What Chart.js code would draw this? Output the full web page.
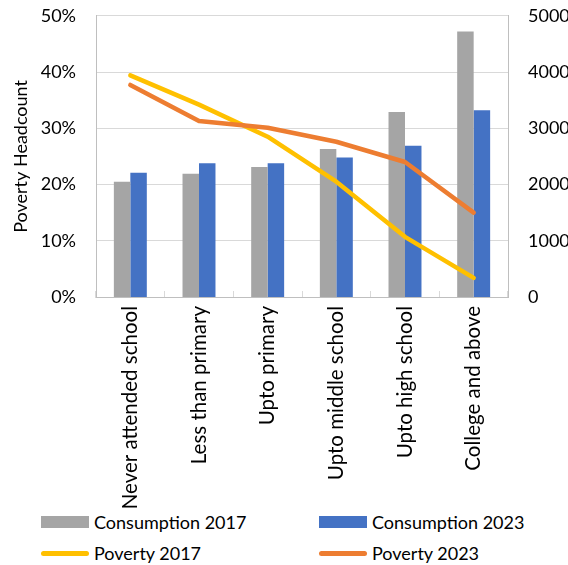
<!DOCTYPE html>
<html>
<head>
<meta charset="utf-8">
<script src="https://cdn.jsdelivr.net/npm/chart.js@4"></script>
<style>
  html, body { margin: 0; padding: 0; background: #fff; overflow: hidden; width: 568px; height: 565px; }
  #wrap { position: absolute; left: 0; top: -15px; width: 600px; height: 525px; }
  #legend { position: absolute; left: 0; top: 510px; width: 568px; height: 55px; font-family: Lato, "Open Sans", sans-serif; font-size: 18px; color: #000; }
  .item { position: absolute; display: flex; align-items: center; height: 24px; }
  .sw { width: 48px; margin-right: 5px; }
  .box { height: 12px; }
  .ln { height: 5px; border-radius: 3px; }
</style>
</head>
<body>
<div id="wrap"><canvas id="c" width="600" height="525"></canvas></div>
<div id="legend"></div>
<script>
const categories = ["Never attended school", "Less than primary", "Upto primary", "Upto middle school", "Upto high school", "College and above"];
const consumption2017 = [2050, 2190, 2310, 2630, 3290, 4720];
const consumption2023 = [2210, 2380, 2380, 2480, 2690, 3320];
const poverty2017 = [39.4, 34.2, 28.5, 20.5, 10.7, 3.4];
const poverty2023 = [37.7, 31.3, 30.1, 27.6, 24.0, 15.0];
const leftTicks = [0, 10, 20, 30, 40, 50];
const rightTicks = [0, 1000, 2000, 3000, 4000, 5000];

const FONT = "Lato, 'Open Sans', sans-serif";
const colors = { c17: "#A5A5A5", c23: "#4472C4", p17: "#FFC000", p23: "#ED7D31" };

const seriesLegend = [
  { label: "Consumption 2017", color: colors.c17, type: "box", x: 41, y: 0 },
  { label: "Consumption 2023", color: colors.c23, type: "box", x: 319, y: 0 },
  { label: "Poverty 2017", color: colors.p17, type: "ln", x: 41, y: 31 },
  { label: "Poverty 2023", color: colors.p23, type: "ln", x: 319, y: 31 }
];
const lg = document.getElementById("legend");
seriesLegend.forEach(s => {
  const d = document.createElement("div");
  d.className = "item";
  d.style.left = s.x + "px";
  d.style.top = s.y + "px";
  const sw = document.createElement("span");
  sw.className = "sw " + s.type;
  sw.style.background = s.color;
  const t = document.createElement("span");
  t.textContent = s.label;
  d.appendChild(sw); d.appendChild(t);
  lg.appendChild(d);
});

new Chart(document.getElementById("c"), {
  data: {
    labels: categories,
    datasets: [
      { type: "bar", label: "Consumption 2017", data: consumption2017, yAxisID: "y1", backgroundColor: colors.c17, categoryPercentage: 0.48, barPercentage: 1, order: 2 },
      { type: "bar", label: "Consumption 2023", data: consumption2023, yAxisID: "y1", backgroundColor: colors.c23, categoryPercentage: 0.48, barPercentage: 1, order: 3 },
      { type: "line", label: "Poverty 2017", data: poverty2017, yAxisID: "y", borderColor: colors.p17, backgroundColor: colors.p17, borderWidth: 4.5, pointRadius: 0, tension: 0, borderCapStyle: "round", borderJoinStyle: "round", order: 1 },
      { type: "line", label: "Poverty 2023", data: poverty2023, yAxisID: "y", borderColor: colors.p23, backgroundColor: colors.p23, borderWidth: 4.5, pointRadius: 0, tension: 0, borderCapStyle: "round", borderJoinStyle: "round", order: 0 }
    ]
  },
  options: {
    responsive: false,
    animation: false,
    events: [],
    layout: { padding: { left: 0, right: 32, top: 0, bottom: 0 } },
    plugins: { legend: { display: false }, tooltip: { enabled: false } },
    scales: {
      x: {
        grid: { display: true, offset: true, drawOnChartArea: false, drawTicks: true, tickLength: -6, color: "#D9D9D9" },
        border: { color: "#BFBFBF" },
        ticks: { color: "#000", font: { family: FONT, size: 20.5 }, minRotation: 90, maxRotation: 90, padding: 15, autoSkip: false },
        afterFit: a => { a.height = 213; }
      },
      y: {
        position: "left",
        min: 0, max: 50,
        afterBuildTicks: a => { a.ticks = leftTicks.map(v => ({ value: v })); },
        ticks: { color: "#000", font: { family: FONT, size: 18 }, padding: 20, callback: v => v + "%" },
        grid: { color: "#D9D9D9", drawTicks: false },
        border: { color: "#BFBFBF" },
        title: { display: true, text: "Poverty Headcount", color: "#000", font: { family: FONT, size: 18 }, padding: { top: 10, bottom: 0 } },
        afterFit: a => { a.width = 96; }
      },
      y1: {
        position: "right",
        min: 0, max: 5000,
        afterBuildTicks: a => { a.ticks = rightTicks.map(v => ({ value: v })); },
        ticks: { color: "#000", font: { family: FONT, size: 18 }, padding: 20, callback: v => String(v) },
        grid: { display: false, drawTicks: false },
        border: { color: "#BFBFBF" },
        afterFit: a => { a.width = 60; }
      }
    }
  }
});
</script>
</body>
</html>
